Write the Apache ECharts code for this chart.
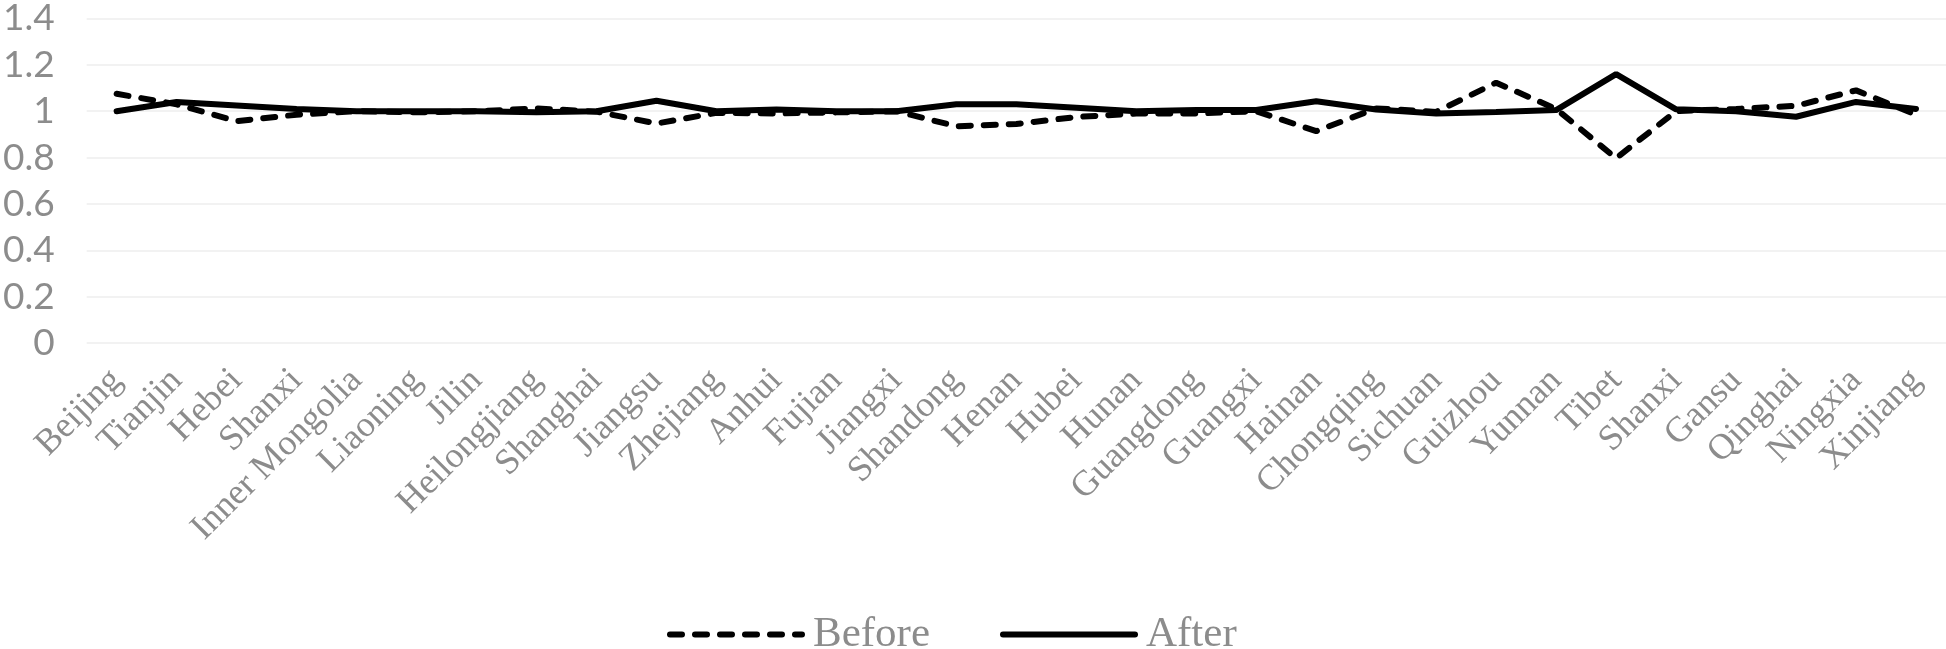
<!DOCTYPE html>
<html>
<head>
<meta charset="utf-8">
<script src="https://cdn.jsdelivr.net/npm/echarts@6/dist/echarts.min.js"></script>
<style>
  html, body { margin: 0; padding: 0; background: #fff; }
  #chart { width: 1946px; height: 649px; }
</style>
</head>
<body>
<div id="chart"></div>
<script>
// provinces, in the order of the x axis
const categories = ['Beijing', 'Tianjin', 'Hebei', 'Shanxi', 'Inner Mongolia', 'Liaoning', 'Jilin',
  'Heilongjiang', 'Shanghai', 'Jiangsu', 'Zhejiang', 'Anhui', 'Fujian', 'Jiangxi', 'Shandong',
  'Henan', 'Hubei', 'Hunan', 'Guangdong', 'Guangxi', 'Hainan', 'Chongqing', 'Sichuan', 'Guizhou',
  'Yunnan', 'Tibet', 'Shanxi', 'Gansu', 'Qinghai', 'Ningxia', 'Xinjiang']

const beforeValues = [1.075, 1.03, 0.957, 0.985, 1.0, 0.995, 1.0, 1.012, 0.998, 0.947, 0.993,
  0.99, 0.995, 1.0, 0.935, 0.945, 0.975, 0.99, 0.99, 1.0, 0.914, 1.012, 0.997, 1.123, 1.01,
  0.797, 1.0, 1.01, 1.023, 1.09, 0.985]

const afterValues = [1.0, 1.04, 1.025, 1.01, 1.0, 1.0, 1.0, 0.995, 1.0, 1.045, 1.0, 1.007,
  1.0, 1.0, 1.03, 1.03, 1.015, 1.0, 1.005, 1.005, 1.043, 1.007, 0.99, 0.997, 1.005, 1.16,
  1.008, 1.0, 0.976, 1.04, 1.01]

const yTicks = [0, 0.2, 0.4, 0.6, 0.8, 1, 1.2, 1.4]

const labelColor = '#8c8c8c'
const dashPattern = [12, 13]

const options = {
  backgroundColor: '#fff',
  animation: false,
  grid: {
    left: 84,
    right: 0,
    top: 15,
    bottom: 306
  },
  legend: {
    left: 662,
    top: 608,
    itemWidth: 132,
    itemHeight: 10,
    itemGap: 70,
    itemStyle: { opacity: 0 },
    textStyle: {
      fontFamily: 'Liberation Serif',
      fontSize: 43,
      color: labelColor,
      padding: [0, 0, 0, 6]
    },
    data: [
      { name: 'Before', lineStyle: { width: 6, type: dashPattern, cap: 'round' } },
      { name: 'After', lineStyle: { width: 6, cap: 'round' } }
    ]
  },
  xAxis: {
    type: 'category',
    data: categories,
    boundaryGap: true,
    axisTick: { show: false },
    axisLine: { show: false },
    splitLine: { show: false },
    axisLabel: {
      interval: 0,
      rotate: 45,
      margin: 32,
      fontFamily: 'Liberation Serif',
      fontSize: 36,
      color: labelColor
    }
  },
  yAxis: {
    type: 'value',
    min: yTicks[0],
    max: yTicks[yTicks.length - 1],
    interval: 0.2,
    axisLine: { show: false },
    axisTick: { show: false },
    splitLine: {
      lineStyle: { color: '#f2f2f2', width: 2 }
    },
    axisLabel: {
      margin: 32,
      fontFamily: 'Lato',
      fontSize: 37,
      color: labelColor
    }
  },
  series: [
    {
      name: 'Before',
      type: 'line',
      data: beforeValues,
      showSymbol: false,
      symbol: 'none',
      lineStyle: {
        color: '#000',
        width: 6,
        type: dashPattern,
        cap: 'round'
      },
      itemStyle: { color: '#000' }
    },
    {
      name: 'After',
      type: 'line',
      data: afterValues,
      showSymbol: false,
      symbol: 'none',
      lineStyle: {
        color: '#000',
        width: 6,
        cap: 'round'
      },
      itemStyle: { color: '#000' }
    }
  ]
}

const chart = echarts.init(document.getElementById('chart'))
chart.setOption(options)
</script>
</body>
</html>
